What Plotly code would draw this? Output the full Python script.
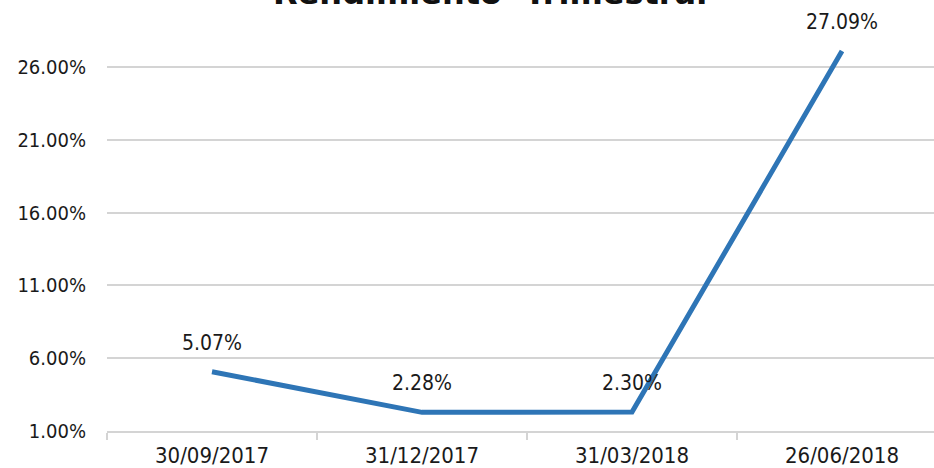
import plotly.graph_objects as go

categories = ["30/09/2017", "31/12/2017", "31/03/2018", "26/06/2018"]
values = [5.07, 2.28, 2.30, 27.09]
value_labels = ["5.07%", "2.28%", "2.30%", "27.09%"]
title_text = "Rendimiento\u00a0\u00a0Trimestral"

FONT = "DejaVu Sans Condensed, DejaVu Sans, sans-serif"
LINE_COLOR = "#2E75B6"
GRID = "#D4D4D4"
TXT = "#1a1a1a"

def f(size):
    return dict(family=FONT, size=size, color=TXT)

fig = go.Figure()
fig.add_trace(go.Scatter(
    x=categories, y=values, mode="lines",
    line=dict(color=LINE_COLOR, width=5, shape="linear"),
    hoverinfo="skip", showlegend=False,
))

for c, v, t in zip(categories, values, value_labels):
    fig.add_annotation(x=c, y=v, text=t, showarrow=False, xref="x", yref="y",
                       yshift=29, font=f(21))

fig.add_annotation(text=f"<b>{title_text}</b>", xref="paper", yref="paper",
                   x=0.463, y=1, xanchor="center", yanchor="bottom", yshift=-14,
                   showarrow=False,
                   font=dict(family="DejaVu Sans, sans-serif", size=32, color="#111111"))

fig.update_layout(
    width=934, height=468,
    margin=dict(l=107, r=0, t=0, b=37, autoexpand=False),
    paper_bgcolor="white", plot_bgcolor="white",
    font=f(21),
    hovermode=False,
    xaxis=dict(
        type="category", range=[-0.5, 3.438], automargin=False,
        showgrid=False, zeroline=False,
        showline=True, linecolor=GRID, linewidth=2,
        ticks="outside", tickson="boundaries", ticklen=7, tickwidth=2, tickcolor=GRID,
        ticklabelstandoff=4,
        tickfont=f(22),
    ),
    yaxis=dict(
        range=[1, 30.6], tick0=1, dtick=5, automargin=False,
        tickformat=".2f", ticksuffix="%",
        showgrid=True, gridcolor=GRID, gridwidth=2,
        zeroline=False, showline=False,
        ticks="outside", ticklen=16, tickcolor="rgba(0,0,0,0)",
        tickfont=f(20),
    ),
)

fig.write_html("out.html", config={"displayModeBar": False},
               post_script="document.body.style.margin='0';")
